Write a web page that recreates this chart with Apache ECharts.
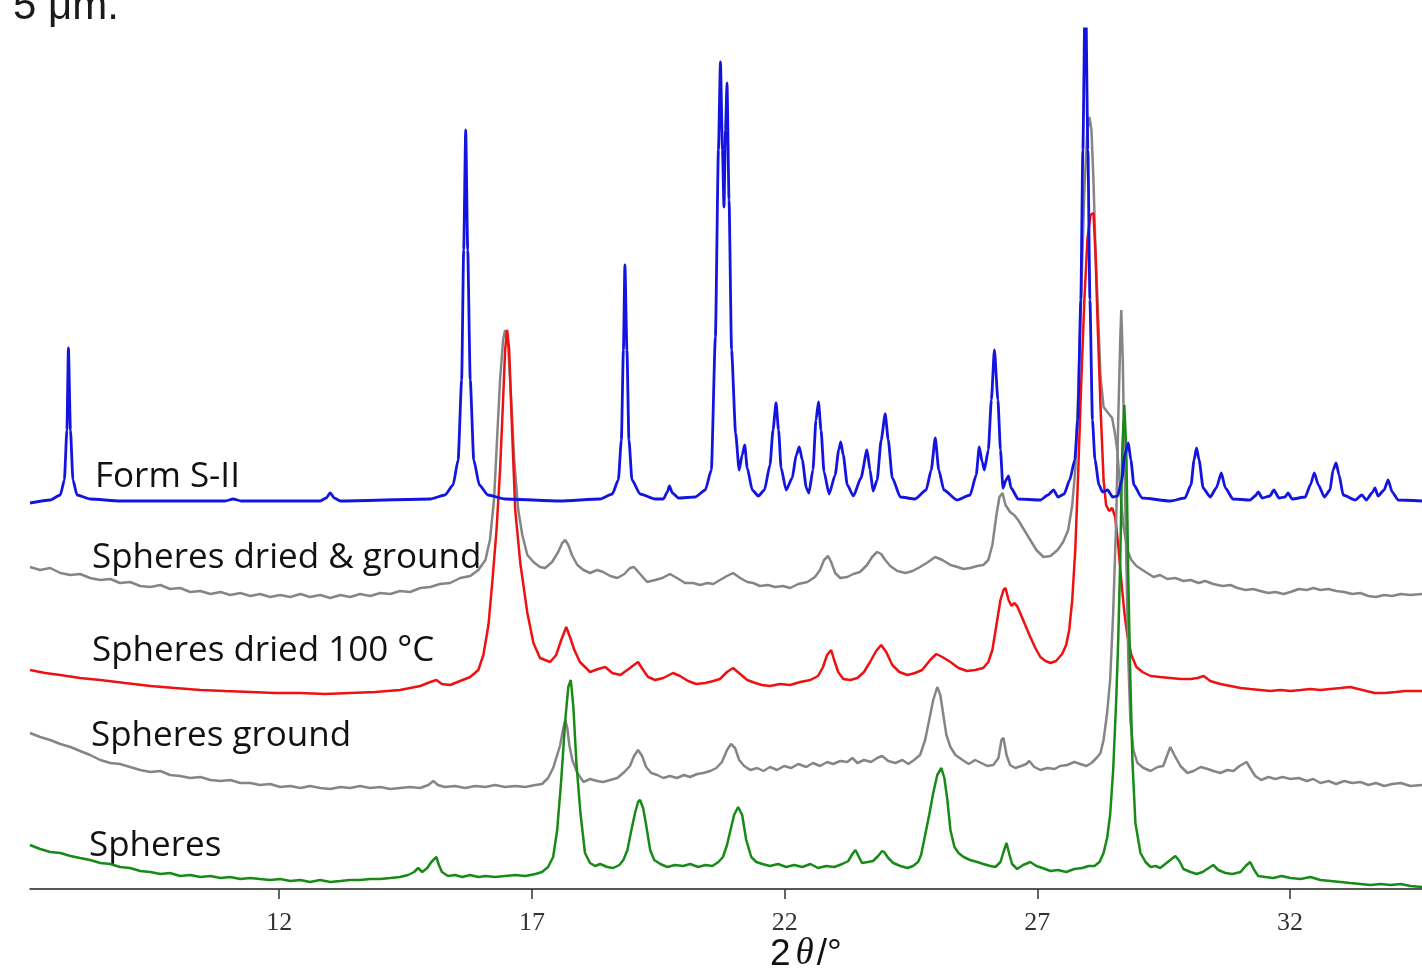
<!DOCTYPE html>
<html>
<head>
<meta charset="utf-8">
<title>PXRD patterns</title>
<script src="https://cdn.jsdelivr.net/npm/echarts@6.0.0/dist/echarts.min.js"></script>
<style>
  html, body { margin: 0; padding: 0; background: #fff; }
  #chart { width: 1422px; height: 968px; }
</style>
</head>
<body>
<div id="chart"></div>
<script>
// 2theta tick labels shown on the axis
const tickValues = [12, 17, 22, 27, 32];

// trace names, top to bottom
const traceNames = ['Form S-II', 'Spheres dried & ground', 'Spheres dried 100 °C', 'Spheres ground', 'Spheres'];

// [2theta, stacked intensity]
const formSII = [
  [7.07,386],[7.47,389],[7.67,394],[7.75,409],[7.80,459],[7.83,541],[7.87,459],[7.92,409],[8.00,394],[8.26,390],
  [8.85,388],[10.93,388],[11.09,390],[11.25,388],[12.81,388],[12.93,391],[13.01,396],[13.09,391],[13.21,388],
  [14.99,390],[15.28,394],[15.44,404],[15.54,429],[15.61,509],[15.65,639],[15.69,759],[15.73,639],[15.78,509],
  [15.85,429],[15.96,404],[16.13,394],[16.47,390],[17.56,388],
  [18.35,390],[18.59,395],[18.71,409],[18.77,449],[18.81,539],[18.84,624],[18.88,539],[18.92,449],[18.98,409],
  [19.14,395],[19.44,390],[19.60,390],[19.68,397],[19.72,403],[19.78,396],[19.90,391],[20.23,392],[20.43,399],
  [20.55,419],[20.63,552],[20.69,739],[20.73,827],[20.77,739],[20.80,682],[20.83,759],[20.86,806],[20.90,689],
  [20.95,539],[21.03,456],[21.10,419],[21.16,434],[21.21,444],[21.26,421],[21.36,399],[21.48,393],[21.60,399],
  [21.71,424],[21.77,459],[21.83,486],[21.88,459],[21.93,421],[22.03,399],[22.15,411],[22.23,434],[22.29,442],
  [22.35,429],[22.43,401],[22.48,396],[22.56,419],[22.62,469],[22.67,487],[22.72,459],[22.78,417],[22.88,395],
  [23.00,414],[23.07,439],[23.11,447],[23.16,434],[23.24,404],[23.36,393],[23.51,411],[23.63,439],[23.69,419],
  [23.75,398],[23.83,409],[23.91,449],[23.99,475],[24.05,449],[24.13,411],[24.29,392],[24.58,390],[24.80,399],
  [24.90,419],[24.98,451],[25.05,419],[25.15,399],[25.41,389],[25.67,394],[25.79,414],[25.85,442],[25.91,427],
  [25.95,419],[26.03,439],[26.09,489],[26.15,539],[26.22,489],[26.27,439],[26.32,401],[26.38,409],[26.43,413],
  [26.48,401],[26.62,390],[27.06,389],[27.21,394],[27.32,399],[27.41,392],[27.53,395],[27.64,409],[27.74,429],
  [27.80,469],[27.86,589],[27.90,739],[27.95,920],[28.00,739],[28.04,589],[28.09,469],[28.14,429],[28.22,404],
  [28.29,397],[28.39,399],[28.49,392],[28.59,393],[28.67,409],[28.73,434],[28.80,446],[28.85,429],[28.91,404],
  [29.07,391],[29.63,388],[29.92,391],[30.04,404],[30.10,429],[30.15,441],[30.20,429],[30.28,401],[30.42,392],
  [30.54,401],[30.64,416],[30.72,401],[30.87,390],[31.21,389],[31.31,393],[31.37,397],[31.45,391],[31.60,393],
  [31.68,399],[31.78,391],[31.90,392],[31.96,396],[32.04,390],[32.30,392],[32.40,404],[32.48,416],[32.56,404],
  [32.68,392],[32.79,399],[32.85,419],[32.91,426],[32.97,414],[33.05,394],[33.29,389],[33.42,394],[33.51,389],
  [33.62,396],[33.68,401],[33.74,393],[33.86,399],[33.94,409],[34.02,397],[34.14,389],[34.61,388]
];

const driedGround = [
  [7.07,322],[7.27,319],[7.47,321],[7.67,316],[7.87,314],[8.06,315],[8.26,311],[8.46,309],[8.66,310],[8.85,306],
  [9.05,307],[9.25,303],[9.45,302],[9.65,304],[9.84,300],[10.04,301],[10.24,297],[10.44,298],[10.64,295],[10.84,297],
  [11.03,294],[11.23,296],[11.43,293],[11.62,295],[11.82,292],[12.02,294],[12.22,292],[12.42,295],[12.61,292],
  [12.81,294],[13.01,291],[13.21,294],[13.40,292],[13.60,295],[13.80,293],[14.00,296],[14.20,295],[14.39,298],
  [14.59,297],[14.79,301],[14.99,302],[15.18,305],[15.38,306],[15.58,311],[15.78,313],[15.94,319],[16.08,329],
  [16.17,349],[16.25,389],[16.31,449],[16.37,509],[16.43,549],[16.47,559],[16.53,544],[16.59,489],[16.65,429],
  [16.73,379],[16.81,354],[16.91,334],[17.03,327],[17.16,322],[17.26,321],[17.40,327],[17.52,337],[17.60,346],
  [17.66,349],[17.72,344],[17.80,333],[17.90,324],[18.02,319],[18.15,316],[18.29,319],[18.41,317],[18.55,313],
  [18.69,311],[18.83,315],[18.94,321],[19.02,322],[19.14,315],[19.28,307],[19.44,309],[19.58,311],[19.73,315],
  [19.87,311],[20.03,306],[20.19,306],[20.33,304],[20.47,306],[20.59,305],[20.72,309],[20.86,313],[20.98,316],
  [21.12,311],[21.26,307],[21.38,306],[21.51,303],[21.67,304],[21.81,302],[21.97,303],[22.11,301],[22.27,305],
  [22.45,307],[22.60,312],[22.70,319],[22.78,329],[22.86,333],[22.92,327],[23.00,316],[23.10,311],[23.24,312],
  [23.36,315],[23.49,317],[23.63,324],[23.73,332],[23.83,337],[23.91,335],[23.99,329],[24.09,323],[24.23,318],
  [24.39,316],[24.53,318],[24.68,322],[24.84,327],[24.98,332],[25.12,329],[25.28,324],[25.42,322],[25.54,320],
  [25.67,321],[25.81,323],[25.93,324],[26.03,329],[26.11,344],[26.19,374],[26.25,392],[26.31,396],[26.37,384],
  [26.46,377],[26.54,374],[26.62,369],[26.74,359],[26.86,349],[26.98,339],[27.12,332],[27.26,333],[27.40,339],
  [27.51,347],[27.61,359],[27.69,384],[27.75,419],[27.81,499],[27.87,599],[27.93,699],[27.99,759],[28.03,772],
  [28.07,759],[28.11,709],[28.15,639],[28.19,589],[28.25,512],[28.31,482],[28.40,476],[28.48,471],[28.54,454],
  [28.58,439],[28.64,399],[28.70,364],[28.78,339],[28.86,329],[28.96,323],[29.14,317],[29.30,312],[29.43,314],
  [29.57,310],[29.73,311],[29.89,308],[30.03,309],[30.19,306],[30.32,308],[30.48,305],[30.66,303],[30.82,304],
  [30.96,301],[31.12,299],[31.27,300],[31.41,298],[31.57,296],[31.71,297],[31.87,295],[32.01,297],[32.17,300],
  [32.33,299],[32.46,301],[32.60,299],[32.76,300],[32.91,298],[33.07,297],[33.23,295],[33.39,296],[33.55,293],
  [33.70,292],[33.86,294],[34.02,293],[34.19,295],[34.38,294],[34.61,295]
];

const dried100 = [
  [7.07,219],[7.37,216],[7.67,214],[8.06,211],[8.46,209],[8.95,206],[9.45,203],[9.94,201],[10.44,199],[10.93,198],
  [11.43,197],[11.92,196],[12.42,196],[12.91,195],[13.40,196],[13.90,197],[14.39,199],[14.79,203],[14.99,207],
  [15.11,209],[15.22,205],[15.38,204],[15.58,208],[15.78,212],[15.94,219],[16.04,234],[16.14,264],[16.22,309],
  [16.30,359],[16.37,419],[16.43,489],[16.47,539],[16.51,559],[16.55,539],[16.61,456],[16.67,379],[16.77,326],
  [16.91,276],[17.03,246],[17.16,231],[17.36,227],[17.48,234],[17.58,249],[17.68,262],[17.76,251],[17.84,239],
  [17.95,227],[18.15,217],[18.31,220],[18.45,222],[18.59,216],[18.75,214],[18.94,221],[19.10,227],[19.20,219],
  [19.30,212],[19.44,209],[19.60,211],[19.79,216],[19.93,213],[20.09,208],[20.25,205],[20.43,206],[20.59,208],
  [20.72,210],[20.86,217],[20.98,221],[21.12,215],[21.26,209],[21.42,206],[21.55,204],[21.71,203],[21.91,205],
  [22.11,204],[22.31,207],[22.51,209],[22.66,213],[22.76,222],[22.84,234],[22.92,239],[22.98,229],[23.06,217],
  [23.16,210],[23.30,209],[23.44,211],[23.57,217],[23.69,227],[23.81,238],[23.91,244],[24.01,237],[24.13,224],
  [24.27,217],[24.43,214],[24.58,216],[24.72,219],[24.88,229],[25.00,235],[25.12,232],[25.28,227],[25.44,221],
  [25.61,218],[25.77,219],[25.93,221],[26.03,227],[26.11,239],[26.19,264],[26.27,289],[26.33,299],[26.37,301],
  [26.43,289],[26.49,283],[26.54,286],[26.60,283],[26.66,276],[26.76,264],[26.86,252],[26.96,241],[27.06,232],
  [27.16,228],[27.26,226],[27.37,228],[27.49,235],[27.57,244],[27.63,259],[27.69,289],[27.75,339],[27.81,419],
  [27.87,509],[27.93,589],[27.99,649],[28.05,674],[28.11,676],[28.15,636],[28.19,569],[28.25,482],[28.31,409],
  [28.36,384],[28.42,378],[28.48,381],[28.54,372],[28.60,344],[28.66,309],[28.72,277],[28.78,254],[28.86,234],
  [28.96,222],[29.08,217],[29.24,213],[29.43,212],[29.63,211],[29.83,210],[30.03,210],[30.17,211],[30.29,213],
  [30.42,208],[30.62,205],[30.82,203],[31.02,201],[31.21,200],[31.41,199],[31.61,198],[31.81,199],[32.01,198],
  [32.21,199],[32.40,200],[32.60,199],[32.80,200],[33.00,201],[33.19,202],[33.35,200],[33.51,198],[33.68,196],
  [33.88,196],[34.09,197],[34.28,198],[34.61,198]
];

const ground = [
  [7.07,156],[7.27,152],[7.47,149],[7.67,145],[7.87,142],[8.06,138],[8.26,134],[8.46,129],[8.66,126],[8.85,125],
  [9.05,122],[9.25,119],[9.45,117],[9.65,118],[9.84,114],[10.04,113],[10.24,111],[10.44,112],[10.64,109],[10.84,108],
  [11.03,109],[11.23,106],[11.43,106],[11.62,104],[11.82,105],[12.02,102],[12.22,103],[12.42,101],[12.61,103],
  [12.81,101],[13.01,100],[13.21,102],[13.40,101],[13.60,103],[13.80,101],[14.00,102],[14.20,100],[14.39,101],
  [14.59,102],[14.79,101],[14.95,104],[15.05,108],[15.14,104],[15.28,102],[15.48,103],[15.68,101],[15.88,103],
  [16.08,102],[16.27,104],[16.47,102],[16.67,103],[16.87,102],[17.07,104],[17.20,105],[17.32,111],[17.42,121],
  [17.50,134],[17.56,144],[17.62,161],[17.66,169],[17.70,161],[17.74,144],[17.80,129],[17.90,116],[18.02,107],
  [18.15,110],[18.29,108],[18.41,107],[18.55,109],[18.69,111],[18.83,117],[18.94,123],[19.02,133],[19.10,139],
  [19.18,133],[19.26,122],[19.36,116],[19.48,114],[19.60,111],[19.73,113],[19.87,111],[20.01,114],[20.13,112],
  [20.27,115],[20.39,116],[20.53,118],[20.65,121],[20.76,127],[20.86,139],[20.94,145],[21.02,141],[21.10,129],
  [21.20,123],[21.32,119],[21.46,121],[21.58,118],[21.71,122],[21.85,119],[21.99,123],[22.13,121],[22.27,125],
  [22.43,122],[22.56,126],[22.70,123],[22.84,127],[22.96,125],[23.10,128],[23.24,127],[23.34,131],[23.44,126],
  [23.57,129],[23.71,127],[23.83,131],[23.93,133],[24.05,128],[24.19,126],[24.33,129],[24.45,125],[24.56,129],
  [24.68,134],[24.78,149],[24.86,169],[24.94,189],[25.02,202],[25.08,194],[25.14,174],[25.20,154],[25.28,142],
  [25.38,134],[25.52,129],[25.64,125],[25.77,129],[25.89,126],[26.01,123],[26.13,124],[26.23,131],[26.29,149],
  [26.33,151],[26.39,134],[26.46,124],[26.56,121],[26.68,123],[26.78,125],[26.84,128],[26.94,122],[27.06,119],
  [27.20,121],[27.34,120],[27.45,123],[27.59,124],[27.73,127],[27.85,125],[27.97,123],[28.07,126],[28.17,131],
  [28.25,136],[28.31,149],[28.38,176],[28.44,209],[28.50,276],[28.56,369],[28.60,469],[28.64,549],[28.66,579],
  [28.69,529],[28.72,439],[28.76,329],[28.80,229],[28.84,169],[28.90,139],[28.98,126],[29.10,121],[29.24,118],
  [29.38,122],[29.49,123],[29.57,134],[29.63,142],[29.71,134],[29.83,123],[29.97,116],[30.09,118],[30.23,122],
  [30.37,120],[30.48,118],[30.62,116],[30.76,119],[30.88,118],[31.00,123],[31.14,127],[31.21,121],[31.31,113],
  [31.43,109],[31.57,112],[31.71,110],[31.85,112],[32.01,110],[32.17,111],[32.33,108],[32.46,110],[32.60,106],
  [32.76,108],[32.91,105],[33.07,108],[33.23,106],[33.39,107],[33.55,104],[33.70,106],[33.86,103],[34.02,105],
  [34.19,106],[34.38,103],[34.61,104]
];

const spheres = [
  [7.07,44],[7.27,40],[7.47,37],[7.67,36],[7.87,33],[8.06,31],[8.26,29],[8.46,26],[8.66,25],[8.85,22],[9.05,21],
  [9.25,18],[9.45,17],[9.65,15],[9.84,16],[10.04,13],[10.24,14],[10.44,12],[10.64,13],[10.84,11],[11.03,12],
  [11.23,10],[11.43,11],[11.62,10],[11.82,9],[12.02,10],[12.22,8],[12.42,9],[12.61,7],[12.81,9],[13.01,7],
  [13.21,8],[13.40,9],[13.60,9],[13.80,10],[14.00,10],[14.20,11],[14.39,12],[14.55,14],[14.67,17],[14.75,21],
  [14.83,17],[14.93,21],[15.01,27],[15.11,32],[15.16,24],[15.22,17],[15.34,13],[15.48,14],[15.62,12],[15.78,14],
  [15.94,12],[16.08,13],[16.27,12],[16.47,13],[16.67,14],[16.87,13],[17.07,15],[17.20,17],[17.32,22],[17.42,32],
  [17.50,59],[17.58,109],[17.66,169],[17.72,202],[17.77,209],[17.82,182],[17.88,126],[17.96,76],[18.05,36],
  [18.15,26],[18.25,23],[18.35,25],[18.49,22],[18.61,21],[18.73,24],[18.81,29],[18.89,39],[18.96,57],[19.04,76],
  [19.10,87],[19.14,89],[19.20,81],[19.26,64],[19.34,39],[19.42,29],[19.54,25],[19.68,22],[19.83,24],[19.99,23],
  [20.13,25],[20.29,22],[20.43,24],[20.57,23],[20.69,27],[20.78,32],[20.86,44],[20.92,57],[21.00,74],[21.08,82],
  [21.16,74],[21.24,49],[21.34,32],[21.44,27],[21.56,25],[21.71,23],[21.87,25],[22.03,22],[22.19,24],[22.35,22],
  [22.51,25],[22.66,21],[22.82,23],[22.98,22],[23.14,25],[23.26,28],[23.34,35],[23.40,39],[23.46,33],[23.53,26],
  [23.65,27],[23.75,28],[23.85,33],[23.93,38],[23.97,37],[24.05,31],[24.15,26],[24.29,23],[24.43,21],[24.54,23],
  [24.64,27],[24.70,34],[24.78,54],[24.86,74],[24.94,96],[25.02,114],[25.10,121],[25.16,111],[25.22,89],[25.28,59],
  [25.36,42],[25.44,36],[25.54,32],[25.67,29],[25.81,27],[25.93,25],[26.07,23],[26.17,22],[26.27,27],[26.33,37],
  [26.39,46],[26.45,34],[26.50,25],[26.60,20],[26.72,24],[26.86,27],[26.98,23],[27.10,21],[27.26,18],[27.41,19],
  [27.57,17],[27.73,20],[27.89,21],[28.01,23],[28.13,23],[28.23,27],[28.31,36],[28.38,51],[28.44,74],[28.50,119],
  [28.56,189],[28.60,249],[28.64,329],[28.68,439],[28.72,484],[28.76,439],[28.80,309],[28.84,209],[28.88,129],
  [28.94,66],[29.04,36],[29.14,27],[29.24,22],[29.34,23],[29.43,21],[29.53,25],[29.63,29],[29.73,33],[29.81,28],
  [29.89,20],[30.03,17],[30.15,15],[30.27,17],[30.39,21],[30.48,24],[30.58,19],[30.72,16],[30.86,15],[31.02,17],
  [31.12,23],[31.21,27],[31.29,19],[31.37,13],[31.51,12],[31.67,11],[31.83,13],[32.01,11],[32.21,10],[32.40,12],
  [32.60,9],[32.80,8],[33.00,7],[33.19,6],[33.39,5],[33.59,4],[33.79,5],[33.99,4],[34.19,5],[34.38,3],[34.61,2]
];

const chart = echarts.init(document.getElementById('chart'), null, { renderer: 'canvas' });

function trace(name, data, color, width, smooth) {
  return {
    name: name,
    type: 'line',
    data: data,
    showSymbol: false,
    symbol: 'none',
    smooth: smooth || false,
    smoothMonotone: 'x',
    lineStyle: { color: color, width: width },
    emphasis: { disabled: true },
    clip: true,
    z: 2
  };
}

const labelFont = '"Open Sans", Lato, sans-serif';
function traceLabel(text, x, y) {
  return {
    type: 'text',
    left: x,
    top: y,
    style: { text: text, fill: '#111', font: '35px ' + labelFont }
  };
}

const option = {
  animation: false,
  backgroundColor: '#fff',
  grid: { left: 30, right: 0, top: 29, bottom: 79, containLabel: false },
  xAxis: {
    type: 'value',
    min: 7.07,
    max: 34.61,
    axisLine: { show: true, lineStyle: { color: '#222', width: 1.5 } },
    axisTick: { show: true, length: 10, customValues: tickValues, lineStyle: { color: '#333', width: 1.5 } },
    axisLabel: {
      customValues: tickValues,
      margin: 21,
      color: '#333',
      fontSize: 26,
      fontFamily: '"Liberation Serif", serif'
    },
    splitLine: { show: false }
  },
  yAxis: {
    type: 'value',
    min: 0,
    max: 860,
    show: false,
    splitLine: { show: false }
  },
  series: [
    trace(traceNames[1], driedGround, '#858585', 2.5),
    trace(traceNames[2], dried100, '#ee1111', 2.5),
    trace(traceNames[3], ground, '#858585', 2.5),
    trace(traceNames[4], spheres, '#178a17', 2.5),
    trace(traceNames[0], formSII, '#1414e0', 2.8, 0.2)
  ],
  graphic: [
    {
      type: 'text',
      left: 13,
      top: -14,
      style: { text: '5 μm.', fill: '#1a1a1a', font: '42px "Liberation Sans", Arial, sans-serif' }
    },
    traceLabel(traceNames[0], 95, 460),
    traceLabel(traceNames[1], 92, 541),
    traceLabel(traceNames[2], 92, 634),
    traceLabel(traceNames[3], 91, 719),
    traceLabel(traceNames[4], 89, 829),
    {
      type: 'text',
      left: 770,
      top: 936,
      style: {
        text: '{a|2}{b|θ}{a|/°}',
        rich: {
          a: { fontSize: 37, fontFamily: '"Liberation Sans", Arial, sans-serif', fill: '#111' },
          b: { fontSize: 37, fontStyle: 'italic', fontFamily: '"Liberation Serif", serif', fill: '#111', padding: [0, 3, 0, 5] }
        }
      }
    }
  ]
};

chart.setOption(option);
</script>
</body>
</html>
